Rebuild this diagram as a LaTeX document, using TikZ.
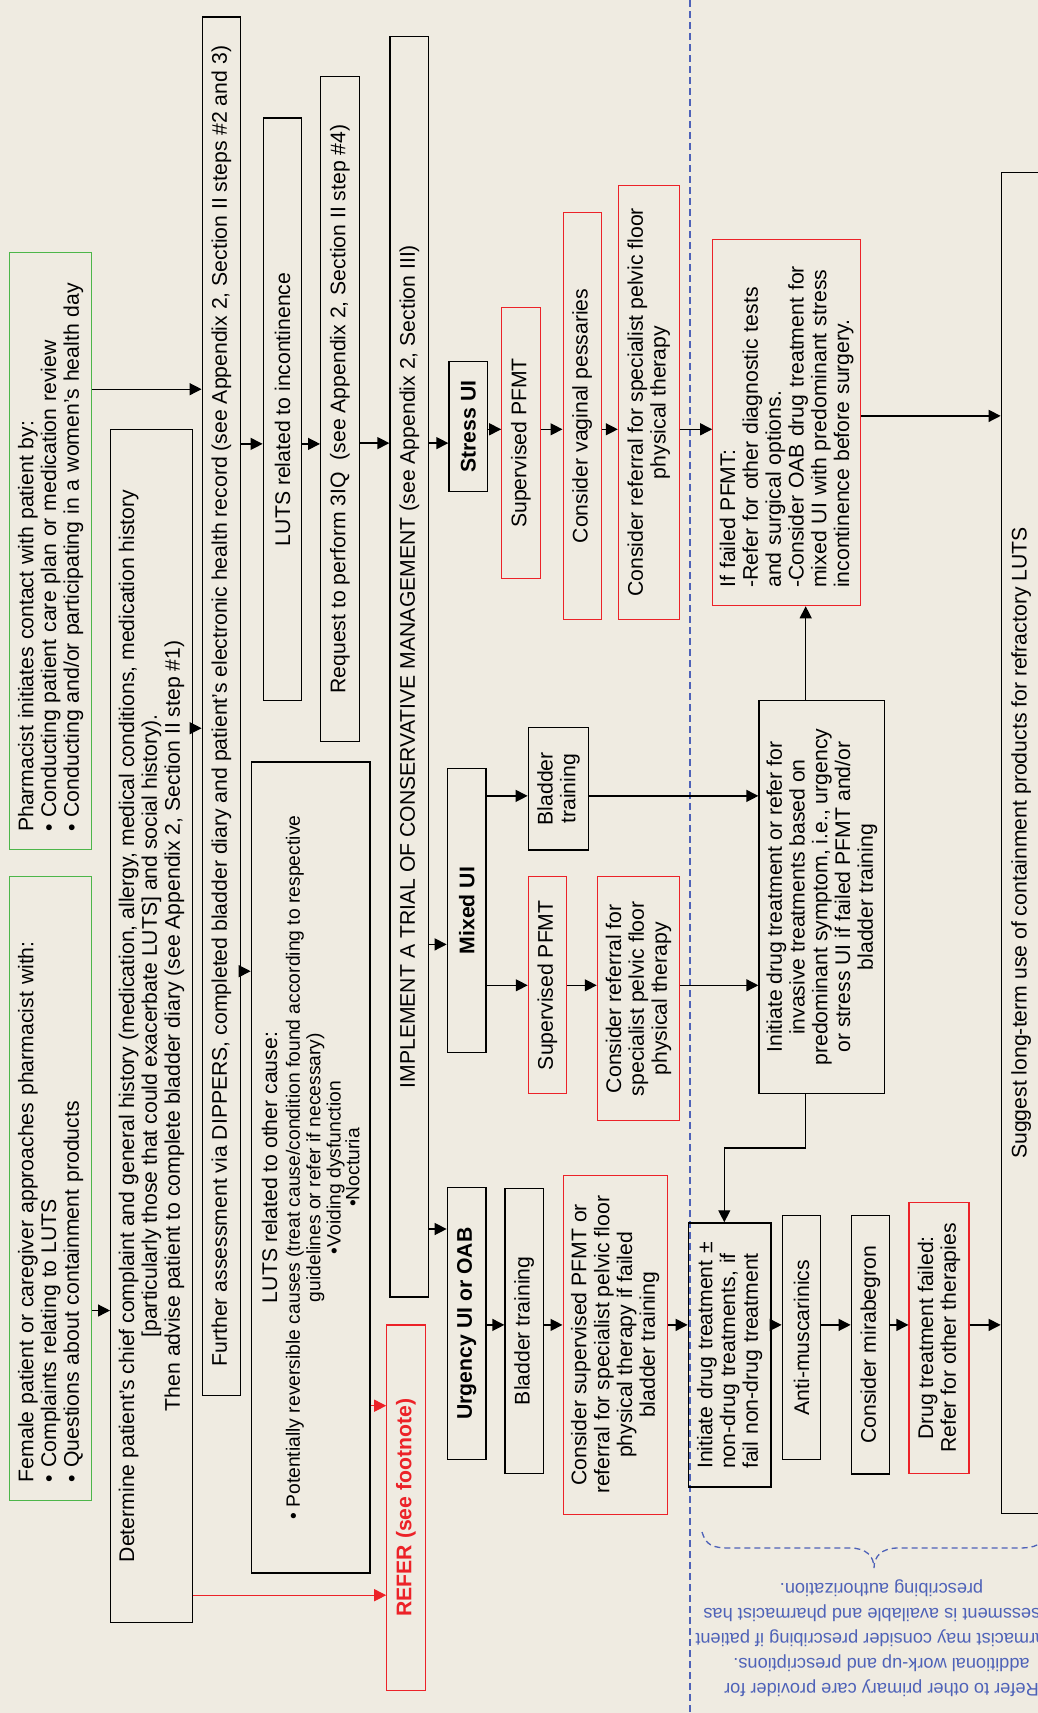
\documentclass[tikz,border=0pt]{standalone}
\usepackage{fontspec}
\setmainfont{Liberation Sans}
\usetikzlibrary{arrows.meta}
\definecolor{bgc}{RGB}{239,235,225}
\definecolor{gbox}{RGB}{77,182,73}
\definecolor{rbox}{RGB}{236,34,40}
\definecolor{blc}{RGB}{78,98,184}
\newcommand{\smallfnt}{\fontsize{19.3}{20}\selectfont}
\begin{document}
\begin{tikzpicture}[x=1pt,y=1pt,
  every node/.style={font=\fontsize{21.2}{22.8}\selectfont},
  bfx/.style={font=\fontsize{21.2}{22.8}\selectfont\bfseries},
  bx/.style={draw=black, line width=1.4pt, rotate=90, inner sep=2pt, align=center},
  bl/.style={draw=black, line width=1.4pt, rotate=90, inner ysep=2pt, inner xsep=18pt, align=left},
  gb/.style={draw=gbox, line width=1.1pt, rotate=90, inner ysep=2pt, inner xsep=18pt, align=left},
  rb/.style={draw=rbox, line width=1.1pt, rotate=90, inner sep=2pt, align=center},
  rl/.style={draw=rbox, line width=1.1pt, rotate=90, inner ysep=2pt, inner xsep=18pt, align=left},
  arr/.style={line width=1.3pt, -{Triangle[length=12pt,width=12pt]}},
  rarr/.style={draw=rbox, line width=1.3pt, -{Triangle[length=12pt,width=12pt]}},
  dsh/.style={draw=blc, line width=1.5pt, dash pattern=on 6.5pt off 4.5pt}]
\useasboundingbox (0,0) rectangle (1038,-1713);
\clip (0,0) rectangle (1038,-1713);
\fill[bgc] (0,0) rectangle (1038,-1713);

% dashed separator
\draw[dsh] (690,0) -- (690,-1713);

% nodes
\node[gb, minimum width=623.8pt, text width=587.8pt, minimum height=82.2pt] (fem) at (50.6,-1188.2)
  {Female patient or caregiver approaches pharmacist with:\\ • Complaints relating to LUTS\\ • Questions about containment products};
\node[gb, minimum width=597.4pt, text width=561.4pt, minimum height=82.2pt] (pha) at (50.6,-551.2)
  {\mbox{Pharmacist initiates contact with patient by:}\\ \mbox{• Conducting patient care plan or medication review}\\ \mbox{• Conducting and/or participating in a women’s health day}};
\node[bx, minimum width=1192.9pt, minimum height=81.6pt] (det) at (151.5,-1025.8)
  {Determine patient’s chief complaint and general history (medication, allergy, medical conditions, medication history\\{[}particularly those that could exacerbate LUTS{]} and social history).\\Then advise patient to complete bladder diary (see Appendix 2, Section II step \#1)};
\node[bx, minimum width=1378.4pt, minimum height=38pt] (fur) at (221.3,-706)
  {Further assessment via DIPPERS, completed bladder diary and patient’s electronic health record (see Appendix 2, Section II steps \#2 and 3)};
\node[bx, minimum width=582.7pt, minimum height=38.4pt] (linc) at (282.5,-409.3) {LUTS related to incontinence};
\node[bx, minimum width=665pt, minimum height=38.6pt] (req) at (340,-409)
  {Request to perform 3IQ\ \ (see Appendix 2, Section II step \#4)};
\node[bx, minimum width=811.1pt, minimum height=118.7pt] (loth) at (310.7,-1167.5)
  {LUTS related to other cause:\\{\smallfnt • Potentially reversible causes (treat cause/condition found according to respective}\\[-2.5pt]{\smallfnt guidelines or refer if necessary)}\\[-2.5pt]{\smallfnt •Voiding dysfunction}\\[-4pt]{\smallfnt •Nocturia}};
\node[rb, bfx, text=rbox, minimum width=365.5pt, minimum height=38.3pt] (ref) at (405.9,-1507.7) {REFER (see footnote)};
\node[bx, minimum width=1260.5pt, minimum height=38.7pt] (imp) at (409.4,-666.7)
  {IMPLEMENT A TRIAL OF CONSERVATIVE MANAGEMENT (see Appendix 2, Section III)};
\node[bx, bfx, minimum width=130.1pt, minimum height=38.3pt] (str) at (468.2,-426.7) {Stress UI};
\node[rb, minimum width=271.3pt, minimum height=38.3pt] (sps) at (520.9,-443) {Supervised PFMT};
\node[rb, minimum width=406.3pt, minimum height=38.3pt] (pes) at (582.2,-416) {Consider vaginal pessaries};
\node[rb, minimum width=433.5pt, minimum height=60.7pt] (rfs) at (648.7,-402.4)
  {Consider referral for specialist pelvic floor\\physical therapy};
\node[bx, bfx, minimum width=284.3pt, minimum height=38.7pt] (mix) at (466.7,-910.6) {Mixed UI};
\node[bx, minimum width=122.5pt, minimum height=60.4pt] (btm) at (558.5,-788.7) {Bladder\\training};
\node[rb, minimum width=216.9pt, minimum height=38.4pt] (spm) at (547.5,-985.2) {Supervised PFMT};
\node[rb, minimum width=244.1pt, minimum height=82.4pt] (rfm) at (638.5,-998.8)
  {Consider referral for\\specialist pelvic floor\\physical therapy};
\node[bx, bfx, minimum width=271.8pt, minimum height=38.7pt] (urg) at (466.7,-1323.6) {Urgency UI or OAB};
\node[bx, minimum width=284.8pt, minimum height=38.3pt] (btu) at (524.2,-1330.8) {Bladder training};
\node[rb, minimum width=339.3pt, minimum height=104.3pt] (cnu) at (615.2,-1344.8)
  {Consider supervised PFMT or\\referral for specialist pelvic floor\\physical therapy if failed\\bladder training};
\node[rl, minimum width=365.8pt, text width=329.8pt, minimum height=148pt] (ffp) at (786.7,-422.8)
  {\mbox{If failed PFMT:}\\\mbox{-Refer for other diagnostic tests}\\\mbox{and surgical options.}\\\mbox{-Consider OAB drug treatment for}\\\mbox{mixed UI with predominant stress}\\\mbox{incontinence before surgery.}};
\node[bx, minimum width=393pt, minimum height=125.7pt] (inr) at (821.9,-897.1)
  {Initiate drug treatment or refer for\\invasive treatments based on\\predominant symptom, i.e., urgency\\or stress UI if failed PFMT and/or\\bladder training};
\node[bl, minimum width=263.9pt, text width=227.9pt, minimum height=82.7pt] (ind) at (729.7,-1354.9)
  {\mbox{Initiate drug treatment ±}\\\mbox{non-drug treatments, if}\\\mbox{fail non-drug treatment}};
\node[bx, minimum width=243.8pt, minimum height=38.4pt] (ant) at (801.5,-1337.6) {Anti-muscarinics};
\node[bx, minimum width=258.2pt, minimum height=38.4pt] (mir) at (870.5,-1344.8) {Consider mirabegron};
\node[rb, minimum width=271.8pt, minimum height=60pt] (dfl) at (939,-1338)
  {Drug treatment failed:\\Refer for other therapies};
\node[bx, minimum width=1341.5pt, minimum height=39.7pt] (sug) at (1021.2,-842.95)
  {Suggest long-term use of containment products for refractory LUTS};

% footnote (upside down)
\node[rotate=180, text=blc, align=center, font=\fontsize{18.2}{25}\selectfont] (foot) at (881.5,-1638)
  {Refer to other primary care provider for\\additional work-up and prescriptions.\\Pharmacist may consider prescribing if patient\\assessment is available and pharmacist has\\prescribing authorization.};
\draw[draw=blc, line width=1.3pt, dash pattern=on 6pt off 4pt]
  (702,-1532) .. controls (706,-1545) and (712,-1548) .. (730,-1548) -- (850,-1548)
  .. controls (866,-1548) and (874,-1556) .. (874,-1568)
  .. controls (874,-1556) and (882,-1548) .. (898,-1548) -- (1018,-1548)
  .. controls (1036,-1548) and (1042,-1545) .. (1046,-1532);

% connectors
\draw[arr] (pha.south |- 0,-389.2) -- (fur.north |- 0,-389.2);
\draw[arr] (fem.south |- 0,-1310.5) -- (det.north |- 0,-1310.5);
\draw[arr] (det.south |- 0,-728.2) -- (fur.north |- 0,-728.2);
\draw[arr] (fur.south |- 0,-971.2) -- (loth.north |- 0,-971.2);
\draw[arr] (fur.south |- 0,-443.9) -- (linc.north |- 0,-443.9);
\draw[arr] (linc.south |- 0,-443.9) -- (req.north |- 0,-443.9);
\draw[arr] (req.south |- 0,-443.1) -- (imp.north |- 0,-443.1);
\draw[arr] (imp.south |- 0,-443.1) -- (str.north |- 0,-443.1);
\draw[arr] (str.south |- 0,-429.3) -- (sps.north |- 0,-429.3);
\draw[arr] (sps.south |- 0,-429.3) -- (pes.north |- 0,-429.3);
\draw[arr] (pes.south |- 0,-429.3) -- (rfs.north |- 0,-429.3);
\draw[arr] (rfs.south |- 0,-429.3) -- (ffp.north |- 0,-429.3);
\draw[arr] (ffp.south |- 0,-415.9) -- (sug.north |- 0,-415.9);
\draw[arr] (imp.south |- 0,-944.4) -- (mix.north |- 0,-944.4);
\draw[arr] (mix.south |- 0,-795.9) -- (btm.north |- 0,-795.9);
\draw[arr] (mix.south |- 0,-985.3) -- (spm.north |- 0,-985.3);
\draw[arr] (spm.south |- 0,-985.3) -- (rfm.north |- 0,-985.3);
\draw[arr] (btm.south |- 0,-795.9) -- (inr.north |- 0,-795.9);
\draw[arr] (rfm.south |- 0,-985.3) -- (inr.north |- 0,-985.3);
\draw[arr] (inr.east -| 805.7,0) -- (ffp.west -| 805.7,0);
\draw[arr] (inr.west -| 805.7,0) -- (805.7,-1148) -- (724.3,-1148) -- (ind.east -| 724.3,0);
\draw[arr] (imp.south |- 0,-1229) -- (urg.north |- 0,-1229);
\draw[arr] (urg.south |- 0,-1324.9) -- (btu.north |- 0,-1324.9);
\draw[arr] (btu.south |- 0,-1324.9) -- (cnu.north |- 0,-1324.9);
\draw[arr] (cnu.south |- 0,-1324.9) -- (ind.north |- 0,-1324.9);
\draw[arr] (ind.south |- 0,-1324.9) -- (ant.north |- 0,-1324.9);
\draw[arr] (ant.south |- 0,-1324.9) -- (mir.north |- 0,-1324.9);
\draw[arr] (mir.south |- 0,-1324.9) -- (dfl.north |- 0,-1324.9);
\draw[arr] (dfl.south |- 0,-1324.9) -- (sug.north |- 0,-1324.9);
\draw[rarr] (det.south |- 0,-1595.2) -- (ref.north |- 0,-1595.2);
\draw[rarr] (loth.south |- 0,-1405.7) -- (ref.north |- 0,-1405.7);
\end{tikzpicture}
\end{document}
